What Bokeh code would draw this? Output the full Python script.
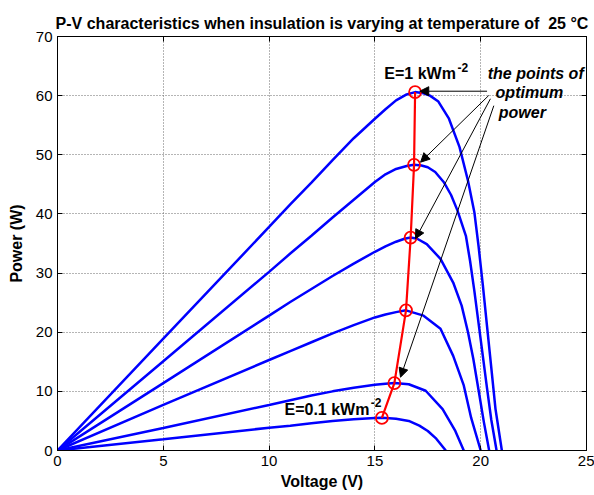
from bokeh.plotting import figure
from bokeh.models import Range1d, LinearAxis, FixedTicker, Arrow, NormalHead, Label
from bokeh.embed import file_html
from bokeh.resources import INLINE

# ---- data ----
v_e100 = [0, 5, 10, 11, 12, 13, 14, 15, 15.5, 16, 16.5, 16.9, 17.3, 17.6, 18.0, 18.5, 19.0, 19.4, 19.7, 19.9, 20.1, 20.3, 20.5, 20.7, 21.0]
p_e100 = [0, 18.9, 37.8, 41.6, 45.3, 49.1, 52.8, 56.1, 57.7, 59.2, 60.2, 60.6, 60.4, 60.0, 59.0, 56.1, 51.3, 45.6, 40.3, 34.5, 28.0, 21.0, 14.0, 7.0, 0]

v_e080 = [0, 5, 10, 11, 12, 13, 14, 15, 15.5, 16, 16.5, 16.85, 17.2, 17.5, 17.85, 18.25, 18.6, 18.9, 19.3, 19.5, 19.7, 19.9, 20.1, 20.3, 20.5, 20.75]
p_e080 = [0, 15.1, 30.2, 33.3, 36.3, 39.4, 42.4, 45.4, 46.7, 47.6, 48.1, 48.3, 48.2, 47.9, 47.1, 45.4, 43.2, 40.6, 36.3, 32.0, 27.0, 21.5, 16.0, 10.5, 5.2, 0]

v_e060 = [0, 5, 10, 11, 12, 13, 14, 15, 15.5, 16, 16.4, 16.69, 17.0, 17.45, 18.1, 18.7, 19.1, 19.4, 19.65, 19.9, 20.15, 20.4]
p_e060 = [0, 11.4, 22.8, 25.1, 27.3, 29.5, 31.6, 33.6, 34.5, 35.3, 35.8, 36.0, 35.8, 34.9, 32.4, 28.4, 24.5, 20.0, 15.5, 10.2, 4.8, 0]

v_e040 = [0, 5, 10, 11, 12, 13, 14, 15, 15.5, 16, 16.47, 17.3, 18.1, 18.7, 19.2, 19.55, 20.0]
p_e040 = [0, 7.7, 15.3, 16.8, 18.3, 19.8, 21.2, 22.5, 23.0, 23.4, 23.7, 22.8, 20.6, 16.0, 11.0, 5.5, 0]

v_e020 = [0, 5, 10, 11, 12, 13, 14, 15, 15.5, 15.92, 16.6, 17.4, 18.2, 18.8, 19.2]
p_e020 = [0, 3.8, 7.7, 8.5, 9.3, 10.0, 10.6, 11.1, 11.3, 11.4, 11.2, 10.1, 7.0, 3.3, 0]

v_e010 = [0, 5, 10, 11, 12, 13, 14, 15, 15.33, 16.0, 16.6, 17.1, 17.5, 17.9, 18.35]
p_e010 = [0, 1.9, 3.85, 4.2, 4.6, 5.0, 5.3, 5.5, 5.55, 5.35, 5.0, 4.2, 3.3, 2.0, 0]

v_mpp = [16.9, 16.85, 16.69, 16.47, 15.92, 15.33]
p_mpp = [60.6, 48.3, 36.0, 23.7, 11.4, 5.5]

x_ticks = [0, 5, 10, 15, 20, 25]
y_ticks = [0, 10, 20, 30, 40, 50, 60, 70]

FONT = "Liberation Sans"

p = figure(width=594, height=495, output_backend="svg", toolbar_location=None,
           x_range=Range1d(0, 25), y_range=Range1d(0, 70),
           min_border_left=57, min_border_right=8, min_border_top=36, min_border_bottom=45,
           background_fill_color="white", border_fill_color="white")

p.title.text = "P-V characteristics when insulation is varying at temperature of\u00a0 25 \u00b0C"
p.title.align = "center"
p.title.text_font = FONT
p.title.text_font_size = "16px"
p.title.text_font_style = "bold"
p.title.text_color = "black"

p.xaxis.ticker = FixedTicker(ticks=x_ticks)
p.yaxis.ticker = FixedTicker(ticks=y_ticks)
p.xaxis.axis_label = "Voltage (V)"
p.yaxis.axis_label = "Power (W)"
for ax in (p.xaxis[0], p.yaxis[0]):
    ax.major_tick_in = 5
    ax.major_tick_out = 0
    ax.minor_tick_line_color = None
    ax.major_label_standoff = 5
    ax.major_label_text_font = FONT
    ax.major_label_text_font_size = "15px"
    ax.major_label_text_color = "black"
    ax.axis_label_text_font = FONT
    ax.axis_label_text_font_size = "16px"
    ax.axis_label_text_font_style = "bold"
    ax.axis_label_text_color = "black"
    ax.axis_line_color = "black"
    ax.major_tick_line_color = "black"
p.xaxis.axis_label_standoff = 4
p.yaxis.axis_label_standoff = 8

top_ax = LinearAxis(ticker=FixedTicker(ticks=x_ticks),
                    major_label_overrides={t: "" for t in x_ticks},
                    major_tick_in=5, major_tick_out=0, minor_tick_line_color=None,
                    major_label_standoff=0, axis_line_color="black")
right_ax = LinearAxis(ticker=FixedTicker(ticks=y_ticks),
                      major_label_overrides={t: "" for t in y_ticks},
                      major_tick_in=5, major_tick_out=0, minor_tick_line_color=None,
                      major_label_standoff=0, axis_line_color="black")
p.add_layout(top_ax, "above")
p.add_layout(right_ax, "right")

p.grid.grid_line_color = "#6a6a6a"
p.grid.grid_line_dash = "1 2"
p.grid.grid_line_width = 1
p.outline_line_color = "black"

BLUE = "#0000ff"
for vv, pp in [(v_e100, p_e100), (v_e080, p_e080), (v_e060, p_e060),
               (v_e040, p_e040), (v_e020, p_e020), (v_e010, p_e010)]:
    p.line(vv, pp, line_color=BLUE, line_width=2.5)

p.line(v_mpp, p_mpp, line_color="#ff0000", line_width=2.2)
p.scatter(v_mpp, p_mpp, marker="circle", size=12, fill_color=None,
          line_color="#ff0000", line_width=1.8)

head = dict(size=9, fill_color="black", line_color="black")
arrows = [((20.3, 60.75), (17.12, 60.75)),
          ((20.38, 60.03), (17.16, 48.75)),
          ((20.46, 59.47), (16.92, 35.8)),
          ((20.62, 58.3), (16.21, 12.4))]
for (x0, y0), (x1, y1) in arrows:
    p.add_layout(Arrow(end=NormalHead(**head), x_start=x0, y_start=y0, x_end=x1, y_end=y1,
                       line_color="black", line_width=1))

def lab(x, y, t, size="16px", style="bold", align="left"):
    p.add_layout(Label(x=x, y=y, text=t, text_font=FONT, text_font_size=size,
                       text_font_style=style, text_color="black",
                       text_align=align, text_baseline="middle"))

lab(18.83, 63.7, "E=1 kWm", align="right")
lab(18.9, 64.8, "-2", size="12px")
lab(14.74, 7.0, "E=0.1 kWm", align="right")
lab(14.8, 8.2, "-2", size="12px")

lab(22.6, 63.7, "the points of", style="bold italic", align="center")
lab(22.3, 60.6, "optimum", style="bold italic", align="center")
lab(21.97, 57.2, "power", style="bold italic", align="center")

open("out.html", "w").write(file_html(p, INLINE))
